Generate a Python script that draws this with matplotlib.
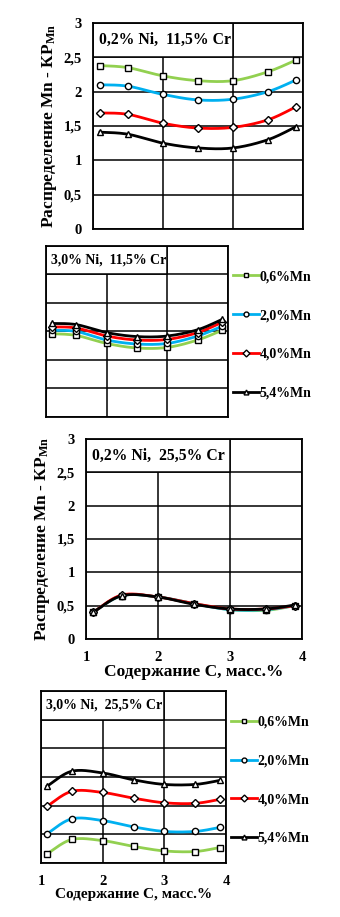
import numpy as np
import matplotlib
matplotlib.use("Agg")
import matplotlib.pyplot as plt
from matplotlib.patches import Rectangle

plt.rcParams['font.family'] = ['Liberation Serif', 'DejaVu Serif']
plt.rcParams['font.weight'] = 'bold'
plt.rcParams['axes.labelweight'] = 'bold'
plt.rcParams['mathtext.default'] = 'regular'

# carbon content, mass %
carbon = [1.1, 1.5, 2.0, 2.5, 3.0, 3.5, 3.9]
series_labels = ['0,6%Mn', '2,0%Mn', '4,0%Mn', '5,4%Mn']
colors = ['#92D050', '#00B0F0', '#FF0000', '#000000']
markers = ['s', 'o', 'D', '^']

# 0,2% Ni, 11,5% Cr
p1_mn06 = [2.38, 2.35, 2.23, 2.16, 2.16, 2.29, 2.46]
p1_mn20 = [2.10, 2.08, 1.96, 1.88, 1.89, 2.00, 2.17]
p1_mn40 = [1.69, 1.67, 1.54, 1.47, 1.48, 1.59, 1.78]
p1_mn54 = [1.41, 1.38, 1.25, 1.18, 1.18, 1.30, 1.49]

# 3,0% Ni, 11,5% Cr
p2_mn06 = [1.46, 1.43, 1.29, 1.21, 1.22, 1.35, 1.52]
p2_mn20 = [1.52, 1.50, 1.35, 1.28, 1.29, 1.42, 1.59]
p2_mn40 = [1.58, 1.56, 1.42, 1.35, 1.36, 1.48, 1.66]
p2_mn54 = [1.64, 1.62, 1.48, 1.41, 1.42, 1.53, 1.71]

# 0,2% Ni, 25,5% Cr
p3_mn06 = [0.40, 0.65, 0.63, 0.53, 0.44, 0.43, 0.50]
p3_mn20 = [0.40, 0.65, 0.63, 0.53, 0.44, 0.44, 0.50]
p3_mn40 = [0.40, 0.66, 0.63, 0.53, 0.45, 0.45, 0.50]
p3_mn54 = [0.40, 0.65, 0.63, 0.52, 0.45, 0.45, 0.51]

# 3,0% Ni, 25,5% Cr
p4_mn06 = [0.16, 0.41, 0.39, 0.29, 0.21, 0.20, 0.27]
p4_mn20 = [0.51, 0.77, 0.74, 0.63, 0.55, 0.55, 0.62]
p4_mn40 = [0.99, 1.25, 1.23, 1.13, 1.05, 1.04, 1.11]
p4_mn54 = [1.34, 1.60, 1.57, 1.45, 1.37, 1.37, 1.44]

y_ticks = [0, 0.5, 1, 1.5, 2, 2.5, 3]
y_tick_labels = ['0', '0,5', '1', '1,5', '2', '2,5', '3']
x_ticks = [1, 2, 3, 4]
ylabel = 'Распределение Mn - КР$_{Mn}$'
xlabel = 'Содержание С, масс.%'


def smooth(x, y, n=24):
    # Catmull-Rom curve through the points, like Excel's smoothed line
    p = np.column_stack([x, y])
    p = np.vstack([p[0], p, p[-1]])
    t = np.linspace(0, 1, n, endpoint=False)[:, None]
    out = []
    for i in range(1, len(p) - 2):
        p0, p1, p2, p3 = p[i - 1], p[i], p[i + 1], p[i + 2]
        out.append(0.5 * (2 * p1 + (p2 - p0) * t
                          + (2 * p0 - 5 * p1 + 4 * p2 - p3) * t ** 2
                          + (-p0 + 3 * p1 - 3 * p2 + p3) * t ** 3))
    out.append(p[-2][None])
    s = np.vstack(out)
    return s[:, 0], s[:, 1]


def panel(fig, rect, data, title, title_size, show_y, xlab_size, legend):
    ax = fig.add_axes(rect)
    ax.set_xlim(1, 4)
    ax.set_ylim(0, 3)
    ax.set_xticks(x_ticks)
    ax.set_yticks(y_ticks)
    ax.grid(True, color='black', lw=1.1)
    ax.set_axisbelow(True)
    for sp in ax.spines.values():
        sp.set_linewidth(1.3)
    ax.tick_params(length=0, labelsize=10.5, pad=8)
    if show_y:
        ax.set_yticklabels(y_tick_labels)
        ax.set_ylabel(ylabel, fontsize=12.5, labelpad=3)
    else:
        ax.set_yticklabels([])
    if xlab_size:
        ax.set_xticklabels([str(v) for v in x_ticks])
        ax.tick_params(axis='x', pad=9)
        ax.set_xlabel(xlabel, fontsize=xlab_size, labelpad=0)
    else:
        ax.set_xticklabels([])
    ax.add_patch(Rectangle((1, 2.5), 2, 0.5, facecolor='white', edgecolor='black',
                           lw=1.1, zorder=1.5))
    ax.text(1.08, 2.75, title, fontsize=title_size, va='center', ha='left', zorder=2)
    handles = []
    for vals, c, m, lab in zip(data, colors, markers, series_labels):
        sx, sy = smooth(carbon, vals)
        ax.plot(sx, sy, color=c, lw=2, zorder=3)
        ax.plot(carbon, vals, ls='none', marker=m, ms=4.5 if m != 'D' else 4,
                mfc='white', mec='black', mew=1, zorder=4)
        h, = ax.plot([], [], color=c, lw=2, marker=m, ms=3.5, mfc='white',
                     mec='black', mew=1)
        handles.append(h)
    if legend:
        ax.legend(handles, series_labels, loc='center left', bbox_to_anchor=(1.025, 0.48),
                  frameon=False, fontsize=10, handlelength=1.9, handletextpad=0.05,
                  labelspacing=1.85, borderaxespad=0, borderpad=0)
    return ax


fig = plt.figure(figsize=(3.4, 9.17), dpi=100)
panel(fig, [0.2735, 0.7503, 0.6176, 0.2246], [p1_mn06, p1_mn20, p1_mn40, p1_mn54],
      '0,2% Ni,  11,5% Cr', 11.3, True, None, False)
panel(fig, [0.1353, 0.5453, 0.5353, 0.1865], [p2_mn06, p2_mn20, p2_mn40, p2_mn54],
      '3,0% Ni,  11,5% Cr', 10, False, None, True)
panel(fig, [0.2529, 0.3032, 0.6353, 0.2181], [p3_mn06, p3_mn20, p3_mn40, p3_mn54],
      '0,2% Ni,  25,5% Cr', 11.3, True, 12.5, False)
panel(fig, [0.1206, 0.0589, 0.5441, 0.1876], [p4_mn06, p4_mn20, p4_mn40, p4_mn54],
      '3,0% Ni,  25,5% Cr', 10, False, 11, True)

fig.savefig('out.png', dpi=100)
